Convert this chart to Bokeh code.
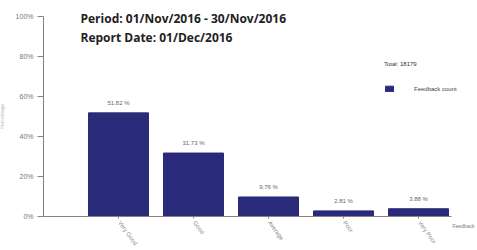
from bokeh.plotting import figure
from bokeh.models import (Range1d, FixedTicker, Label, Legend, LegendItem,
                          ColumnDataSource, PrintfTickFormatter)
from bokeh.core.properties import value
from bokeh.embed import file_html
from bokeh.resources import INLINE

categories = ["Very Good", "Good", "Average", "Poor", "Very Poor"]
percents = [51.82, 31.73, 9.76, 2.81, 3.88]
total_count = 18179
y_ticks = [0, 20, 40, 60, 80, 100]

xs = list(range(1, len(categories) + 1))
labels = ["%.2f %%" % v for v in percents]
src = ColumnDataSource(dict(x=xs, top=percents, label=labels,
                            cat=categories, zero=[0] * len(xs)))

FONT = "Liberation Sans"

# frame covers the whole canvas; axes are pinned at 0 so no text gets clipped
p = figure(width=477, height=250, output_backend="svg", toolbar_location=None,
           x_range=Range1d(-0.5733, 5.7867), y_range=Range1d(-17, 108),
           min_border=0)
p.outline_line_color = None
p.xgrid.grid_line_color = None
p.ygrid.grid_line_color = None

bar_color = "#2a2a7b"
bars = p.vbar(x="x", top="top", width=0.8, bottom=0, source=src,
              fill_color=bar_color, line_color=bar_color)

p.text(x="x", y="top", text="label", source=src, text_align="center",
       text_baseline="bottom", y_offset=-7, text_font_size="6px",
       text_color="#666666", text_font=value(FONT))

# rotated category labels hanging from the ticks
p.text(x="x", y="zero", text="cat", source=src, angle=-0.95,
       text_align="left", text_baseline="middle", x_offset=1, y_offset=5,
       text_font_size="6px", text_color="#888888", text_font=value(FONT))

axis_color = "#8c8079"
# y axis
p.yaxis.fixed_location = 0
p.yaxis.bounds = (0, 100)
p.yaxis.ticker = FixedTicker(ticks=y_ticks)
p.yaxis.formatter = PrintfTickFormatter(format="%d%%")
p.yaxis.axis_line_color = axis_color
p.yaxis.major_tick_line_color = axis_color
p.yaxis.major_tick_out = 6
p.yaxis.major_tick_in = 0
p.yaxis.minor_tick_line_color = None
p.yaxis.major_label_text_font_size = "7px"
p.yaxis.major_label_text_color = "#777777"
p.yaxis.major_label_text_font = FONT
p.yaxis.major_label_standoff = 4
p.yaxis.axis_label = "Percentage"
p.yaxis.axis_label_text_font = FONT
p.yaxis.axis_label_text_font_size = "5px"
p.yaxis.axis_label_text_font_style = "normal"
p.yaxis.axis_label_text_color = "#bbbbbb"
p.yaxis.axis_label_standoff = 8

# x axis
p.xaxis.fixed_location = 0
p.xaxis.bounds = (0, 5.44)
p.xaxis.ticker = FixedTicker(ticks=xs)
p.xaxis.major_label_text_color = None
p.xaxis.axis_line_color = axis_color
p.xaxis.major_tick_line_color = axis_color
p.xaxis.major_tick_out = 2
p.xaxis.major_tick_in = 0
p.xaxis.minor_tick_line_color = None

# titles
p.add_layout(Label(x=0.493, y=99.2,
                   text="Period:  01/Nov/2016 - 30/Nov/2016",
                   text_font="Open Sans", text_font_style="bold",
                   text_font_size="12px", text_color="#222222",
                   text_baseline="middle"))
p.add_layout(Label(x=0.493, y=89.5,
                   text="Report Date:  01/Dec/2016",
                   text_font="Open Sans", text_font_style="bold",
                   text_font_size="12px", text_color="#222222",
                   text_baseline="middle"))
p.add_layout(Label(x=5.453, y=-4.5,
                   text="Feedback", text_font=FONT,
                   text_font_size="5px", text_color="#777777",
                   text_baseline="middle"))

legend = Legend(items=[LegendItem(label="Feedback count", renderers=[bars])],
                title="Total: %d" % total_count,
                location=(384, 158),
                title_text_font_size="6px", title_text_font_style="normal",
                title_text_font=FONT, title_text_color="#333333",
                label_text_font=FONT,
                label_text_font_size="6px", label_text_color="#444444",
                glyph_width=10, glyph_height=7, label_standoff=20,
                border_line_color=None, background_fill_alpha=0,
                padding=3, spacing=2, title_standoff=18)
p.add_layout(legend)

open("out.html", "w").write(file_html(p, INLINE))
